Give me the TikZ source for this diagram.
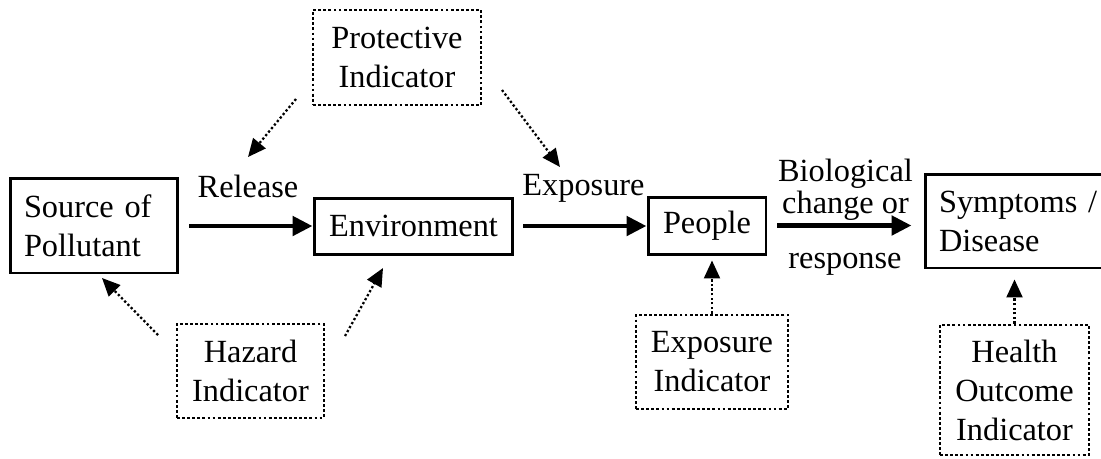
\documentclass[tikz,border=0pt]{standalone}
\usepackage{fontspec}
\setmainfont{Liberation Serif}
\usetikzlibrary{arrows.meta}

\begin{document}
\begin{tikzpicture}[x=0.02cm,y=-0.02cm,font=\fontsize{18.4}{22.2}\selectfont,
  box/.style={draw,line width=1.7pt,inner sep=0pt,align=center},
  ind/.style={draw,line width=1.6pt,dash pattern=on 1.6pt off 1.3pt,inner sep=0pt,align=center},
  flow/.style={line width=2.8pt,-{Triangle[length=0.4cm,width=0.38cm]}},
  hint/.style={line width=1.3pt,dash pattern=on 1.3pt off 1.3pt,-{Triangle[length=0.36cm,width=0.32cm]}}]
\clip (0,0) rectangle (1101,458);

\node [box,align=left,text width=2.8cm,inner xsep=0.28cm,minimum height=1.9cm] (src) at (94,225.5) {Source of\\Pollutant};
\node [box,minimum width=3.98cm,minimum height=1.12cm] (env) at (413.5,226) {Environment};
\node [box,minimum width=2.36cm,minimum height=1.14cm] (people) at (707,225.5) {People};
\node [box,align=left,text width=3.3cm,inner xsep=0.28cm,minimum height=1.88cm] (sym) at (1021.5,221) {Symptoms /\\Disease};

\node [ind,minimum width=3.36cm,minimum height=1.9cm] (prot) at (397,57.5) {Protective\\Indicator};
\node [ind,minimum width=2.94cm,minimum height=1.88cm] (haz) at (250.5,371) {Hazard\\Indicator};
\node [ind,minimum width=3.04cm,minimum height=1.88cm] (expind) at (712,362) {Exposure\\Indicator};
\node [ind,minimum width=2.98cm,minimum height=2.6cm] (health) at (1014.5,390) {Health\\Outcome\\Indicator};

\node [anchor=base] (rel) at (248,197) {Release};
\node [anchor=base] (expo) at (583.5,195) {Exposure};
\node [anchor=base,align=center] (bio) at (845.5,213) {Biological\\[-4.5pt]change or};
\node [anchor=base] (resp) at (845,268) {response};

\draw [flow,shorten <=0.2cm] (src.east |- env.west) -- (env.west);
\draw [flow,shorten <=0.18cm] (env.east) -- (env.east -| people.west);
\draw [flow,shorten <=0.2cm,shorten >=0.24cm] (people.east) -- (people.east -| sym.west);

\coordinate (protA) at (296,99);
\coordinate (relTip) at (248,157);
\coordinate (protB) at (502,90);
\coordinate (expoTip) at (560,167);
\coordinate (hazA) at (158,335);
\coordinate (srcTip) at (102,278);
\coordinate (hazB) at (345,336);
\coordinate (envTip) at (383,268);

\draw [hint] (protA) -- (relTip);
\draw [hint] (protB) -- (expoTip);
\draw [hint] (hazA) -- (srcTip);
\draw [hint] (hazB) -- (envTip);
\draw [hint,shorten >=0.1cm] (expind.north) -- (expind.north |- people.south);
\draw [hint,shorten >=0.2cm] (health.north) -- (health.north |- sym.south);
\end{tikzpicture}
\end{document}
